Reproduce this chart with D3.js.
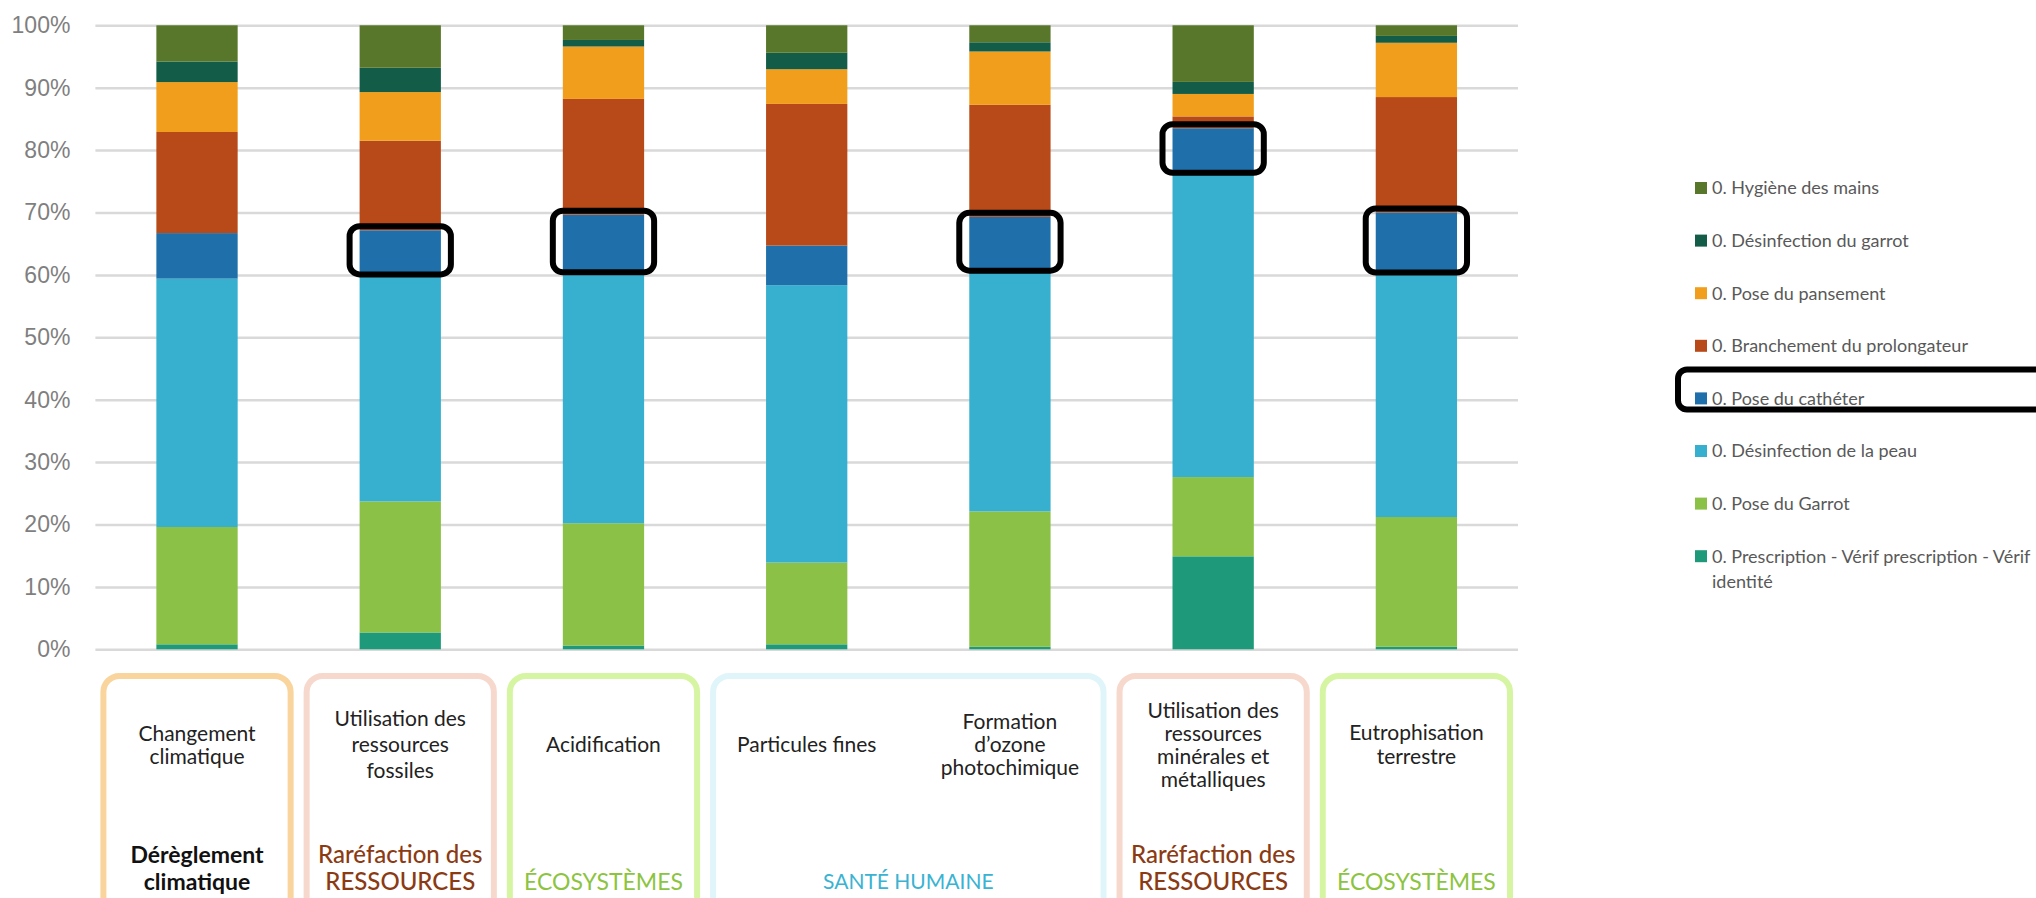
<!DOCTYPE html>
<html>
<head>
<meta charset="utf-8">
<script src="https://cdn.jsdelivr.net/npm/d3@7"></script>
<style>
  body { margin: 0; background: #ffffff; }
  svg { display: block; font-family: Lato, "Open Sans", sans-serif; }
</style>
</head>
<body>
<svg id="chart" width="2036" height="898"></svg>
<script>
// Impact categories (one stacked bar each)
const categories = [
  "Changement climatique",
  "Utilisation des ressources fossiles",
  "Acidification",
  "Particules fines",
  "Formation d’ozone photochimique",
  "Utilisation des ressources minérales et métalliques",
  "Eutrophisation terrestre"
];
const categoryLines = [
  ["Changement", "climatique"],
  ["Utilisation des", "ressources", "fossiles"],
  ["Acidification"],
  ["Particules fines"],
  ["Formation", "d’ozone", "photochimique"],
  ["Utilisation des", "ressources", "minérales et", "métalliques"],
  ["Eutrophisation", "terrestre"]
];
const categoryLineGap = [23, 26, 23, 23, 23, 23, 24];

// Care steps, listed from the bottom of each stack to the top
const seriesNames = [
  "0. Prescription - Vérif prescription - Vérif identité",
  "0. Pose du Garrot",
  "0. Désinfection de la peau",
  "0. Pose du cathéter",
  "0. Branchement du prolongateur",
  "0. Pose du pansement",
  "0. Désinfection du garrot",
  "0. Hygiène des mains"
];
const seriesColors = [
  "#1e9a7b", "#8bc146", "#37afcf", "#1f70aa",
  "#b84a19", "#f19e1c", "#135c48", "#58772a"
];

// Share of each step in each impact category (%)
const prescription = [0.8, 2.7, 0.6, 0.8, 0.4, 14.9, 0.4];
const poseGarrot   = [18.8, 21.0, 19.6, 13.1, 21.7, 12.7, 20.8];
const desinfPeau   = [39.8, 36.7, 40.55, 44.45, 38.9, 49.1, 39.5];
const poseCatheter = [7.3, 6.75, 8.9, 6.35, 8.3, 6.8, 9.3];
const branchement  = [16.2, 14.35, 18.55, 22.7, 17.95, 1.9, 18.5];
const pansement    = [8.0, 7.8, 8.4, 5.56, 8.55, 3.6, 8.7];
const desinfGarrot = [3.3, 3.9, 1.05, 2.64, 1.48, 1.93, 1.1];
const hygiene      = [5.8, 6.8, 2.35, 4.4, 2.72, 9.07, 1.7];
const seriesValues = [prescription, poseGarrot, desinfPeau, poseCatheter,
                      branchement, pansement, desinfGarrot, hygiene];

const yTicks = [0, 0.1, 0.2, 0.3, 0.4, 0.5, 0.6, 0.7, 0.8, 0.9, 1];

// Step and bars that get a black outline
const outlinedSeries = "0. Pose du cathéter";
const outlinedCategories = [categories[1], categories[2], categories[4], categories[5], categories[6]];

// Impact domains grouping the categories
const groupTitles = [
  ["Dérèglement", "climatique"],
  ["Raréfaction des", "RESSOURCES"],
  ["ÉCOSYSTÈMES"],
  ["SANTÉ HUMAINE"],
  ["Raréfaction des", "RESSOURCES"],
  ["ÉCOSYSTÈMES"]
];
const groupFirst = [0, 1, 2, 3, 5, 6];
const groupLast  = [0, 1, 2, 4, 5, 6];
const groupBorder = ["#f9d49c", "#f7d8cc", "#d6f5a2", "#e0f5f9", "#f7d8cc", "#d6f5a2"];
const groupText   = ["#111111", "#8b3b13", "#8cc43f", "#3ab3d2", "#8b3b13", "#8cc43f"];
const groupWeight = [700, 500, 400, 400, 500, 400];
const groupSize   = [23, 24, 23, 21, 24, 23];

const svg = d3.select("#chart");

const plotLeft = 95.4, plotRight = 1518, plotTop = 25.3, plotBottom = 649.3;

const x = d3.scaleBand()
  .domain(categories)
  .range([plotLeft, plotRight])
  .paddingInner(0.6)
  .paddingOuter(0.3);

const y = d3.scaleLinear().domain([0, 1]).range([plotBottom, plotTop]);

const color = d3.scaleOrdinal().domain(seriesNames).range(seriesColors);

// Gridlines + percentage labels
const yAxis = d3.axisLeft(y)
  .tickValues(yTicks)
  .tickFormat(d3.format(".0%"))
  .tickSize(-(plotRight - plotLeft))
  .tickPadding(25);

const gy = svg.append("g")
  .attr("transform", `translate(${plotLeft},0)`)
  .call(yAxis);
gy.select(".domain").remove();
gy.selectAll(".tick line").attr("stroke", "#d9d9d9").attr("stroke-width", 2.5);
gy.selectAll(".tick text")
  .attr("fill", "#7f7f7f")
  .style("font-size", "23px")
  .style("font-weight", 300);

// Stacked 100% bars
const rows = categories.map((c, i) => {
  const r = { category: c };
  seriesNames.forEach((s, k) => { r[s] = seriesValues[k][i]; });
  return r;
});
const stacked = d3.stack().keys(seriesNames).offset(d3.stackOffsetExpand)(rows);

svg.append("g")
  .selectAll("g")
  .data(stacked)
  .join("g")
  .attr("fill", d => color(d.key))
  .selectAll("rect")
  .data(d => d)
  .join("rect")
  .attr("x", d => x(d.data.category))
  .attr("width", x.bandwidth())
  .attr("y", d => y(d[1]))
  .attr("height", d => y(d[0]) - y(d[1]));

// Outlines around the catheter segment
const catheterLayer = stacked.find(s => s.key === outlinedSeries);
svg.append("g")
  .selectAll("rect")
  .data(catheterLayer.filter(d => outlinedCategories.includes(d.data.category)))
  .join("rect")
  .attr("x", d => x(d.data.category) - 10)
  .attr("width", x.bandwidth() + 20)
  .attr("y", d => y(d[1]) - 4)
  .attr("height", d => y(d[0]) - y(d[1]) + 6)
  .attr("rx", 10)
  .attr("fill", "none")
  .attr("stroke", "#000")
  .attr("stroke-width", 6);

// Domain boxes under the bars
const step = x.step();
const bandStart = i => x(categories[i]) - step * x.paddingInner() / 2;
const boxTop = 676;

const groups = svg.append("g")
  .selectAll("g")
  .data(groupTitles.map((t, g) => ({ t, g })))
  .join("g");

groups.append("rect")
  .attr("x", d => bandStart(groupFirst[d.g]) + 8)
  .attr("width", d => bandStart(groupLast[d.g]) + step - bandStart(groupFirst[d.g]) - 16)
  .attr("y", boxTop)
  .attr("height", 260)
  .attr("rx", 16)
  .attr("fill", "#fff")
  .attr("stroke", d => groupBorder[d.g])
  .attr("stroke-width", 6);

groups.append("text")
  .attr("text-anchor", "middle")
  .attr("fill", d => groupText[d.g])
  .style("font-size", d => groupSize[d.g] + "px")
  .style("font-weight", d => groupWeight[d.g])
  .attr("transform", d => {
    const cx = (bandStart(groupFirst[d.g]) + bandStart(groupLast[d.g]) + step) / 2;
    return `translate(${cx},0)`;
  })
  .selectAll("tspan")
  .data(d => d.t.map((line, i) => ({ line, i, n: d.t.length })))
  .join("tspan")
  .attr("x", 0)
  .attr("y", d => 882 - (d.n - 1 - d.i) * 27)
  .attr("dy", "0.35em")
  .text(d => d.line);

// Category names inside the boxes
svg.append("g")
  .selectAll("text")
  .data(categories)
  .join("text")
  .attr("text-anchor", "middle")
  .attr("fill", "#222")
  .style("font-size", "21px")
  .attr("transform", c => `translate(${x(c) + x.bandwidth() / 2},0)`)
  .selectAll("tspan")
  .data((c, i) => categoryLines[i].map((line, j) => ({ line, j, n: categoryLines[i].length, gap: categoryLineGap[i] })))
  .join("tspan")
  .attr("x", 0)
  .attr("y", d => 745 - (d.n - 1) * d.gap / 2 + d.j * d.gap)
  .attr("dy", "0.35em")
  .text(d => d.line);

// Legend, top item is the top of the stack
const legendOrder = seriesNames.slice().reverse();
const legendX = 1695, legendY0 = 188, legendGap = 52.6, legendMaxWidth = 322;

const legend = svg.append("g")
  .selectAll("g")
  .data(legendOrder)
  .join("g")
  .attr("transform", (d, i) => `translate(${legendX},${legendY0 + i * legendGap})`);

legend.append("rect")
  .attr("x", 0).attr("y", -6)
  .attr("width", 12).attr("height", 12)
  .attr("fill", d => color(d));

legend.append("text")
  .attr("x", 17)
  .attr("fill", "#595959")
  .style("font-size", "18px")
  .each(function(d) {
    const t = d3.select(this);
    const words = d.split(" ");
    let line = [], lineNo = 0;
    let tspan = t.append("tspan").attr("x", 17).attr("y", 0).attr("dy", "0.35em");
    words.forEach(w => {
      line.push(w);
      tspan.text(line.join(" "));
      if (tspan.node().getComputedTextLength() > legendMaxWidth && line.length > 1) {
        line.pop();
        tspan.text(line.join(" "));
        line = [w];
        lineNo += 1;
        tspan = t.append("tspan").attr("x", 17).attr("y", lineNo * 26).attr("dy", "0.35em").text(w);
      }
    });
  });

// Outline around the catheter legend entry
const outlinedIndex = legendOrder.indexOf(outlinedSeries);
svg.append("rect")
  .attr("x", legendX - 17)
  .attr("y", legendY0 + outlinedIndex * legendGap - 29)
  .attr("width", 420)
  .attr("height", 40)
  .attr("rx", 9)
  .attr("fill", "none")
  .attr("stroke", "#000")
  .attr("stroke-width", 6);
</script>
</body>
</html>
